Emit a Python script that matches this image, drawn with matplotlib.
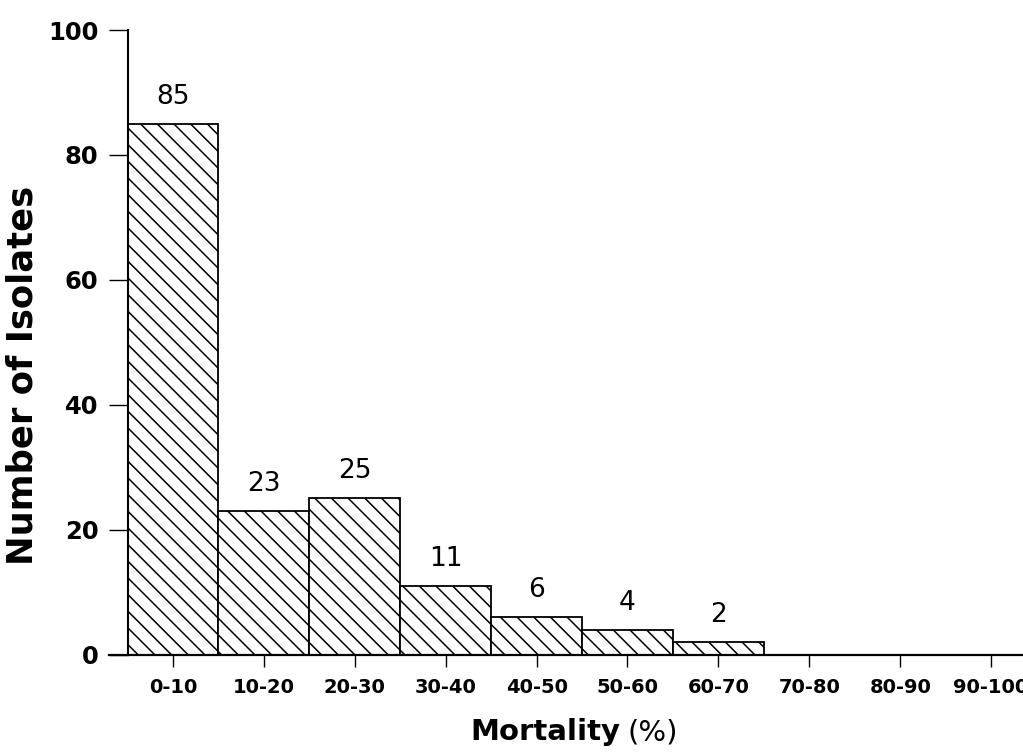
import numpy as np
import matplotlib
matplotlib.use("Agg")
import matplotlib.pyplot as plt

# data
categories = ["0-10", "10-20", "20-30", "30-40", "40-50",
              "50-60", "60-70", "70-80", "80-90", "90-100"]
counts = [85, 23, 25, 11, 6, 4, 2, 0, 0, 0]
yticks = [0, 20, 40, 60, 80, 100]

plt.rcParams['font.family'] = ['DejaVu Sans']
plt.rcParams['hatch.linewidth'] = 1.1

W, H = 1023, 754
fig = plt.figure(figsize=(W / 100, H / 100), dpi=100)
ax = fig.add_axes([109 / W, 1 - 654.5 / H, (W - 109) / W, (654.5 - 30) / H])

x = np.arange(len(categories))
bars = ax.bar(x, counts, width=1.0, color='white', edgecolor='black',
              linewidth=1.3, hatch='\\\\', zorder=2)

# value labels above the non-empty bars
for xi, c in zip(x, counts):
    if c > 0:
        ax.annotate(str(c), (xi, c), xytext=(0, 10), textcoords='offset points',
                    ha='center', va='bottom', fontsize=19)

ax.set_xlim(-0.704, 9.351)
ax.set_ylim(0, 100)

ax.spines['top'].set_visible(False)
ax.spines['right'].set_visible(False)
ax.spines['left'].set_position(('data', -0.5))
ax.spines['left'].set_bounds(0, 100)
ax.spines['left'].set_linewidth(1.5)
ax.spines['bottom'].set_linewidth(1.6)

ax.set_yticks(yticks)
ax.set_yticklabels([str(v) for v in yticks], fontsize=17.5, fontweight='bold')
ax.tick_params(axis='y', direction='out', length=14, width=1.0, pad=7)

ax.set_xticks(x)
ax.set_xticklabels(categories, fontsize=14, fontweight='bold')
ax.tick_params(axis='x', direction='out', length=8.6, width=1.0, pad=8)

# axis titles
fig.text(23 / W, 1 - 375 / H, "Number of Isolates", rotation=90,
         ha='center', va='center', fontsize=25.5, fontweight='bold')
fig.text(620 / W, 1 - 740 / H, "Mortality", ha='right', va='baseline',
         fontsize=21, fontweight='bold')
fig.text(628 / W, 1 - 740 / H, "(%)", ha='left', va='baseline',
         fontsize=21)

fig.savefig("out.png", dpi=100)
